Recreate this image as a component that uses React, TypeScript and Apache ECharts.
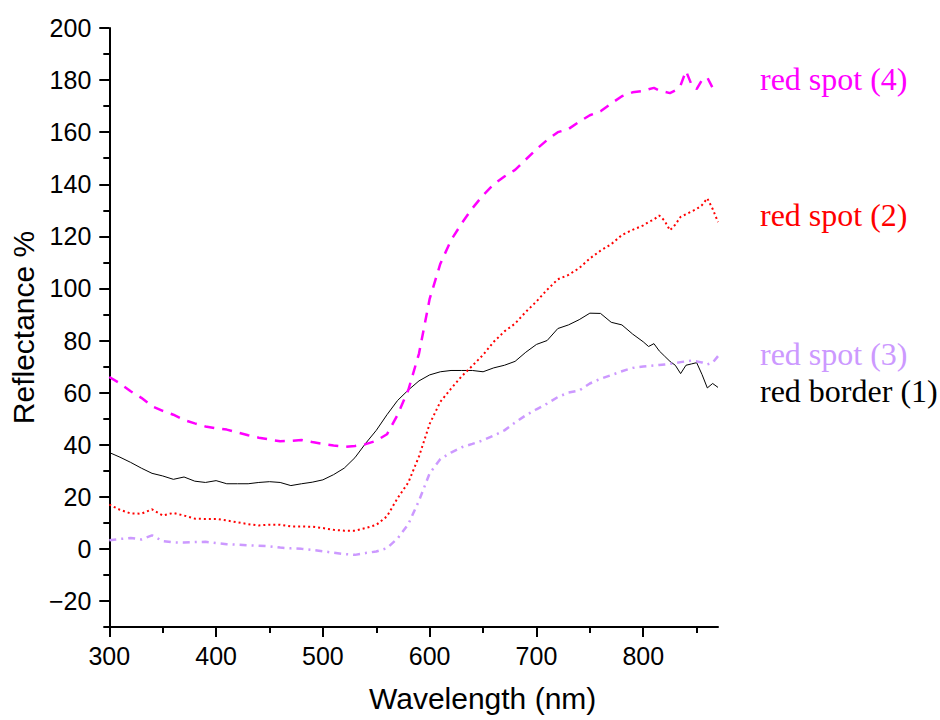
import React, { useEffect, useRef } from 'react';
import * as echarts from 'echarts';

const wavelengths = [
  300, 310, 320, 330, 340, 350, 360, 370, 380, 390, 400, 410, 420, 430, 440, 450, 460, 470, 480, 490,
  500, 510, 520, 530, 540, 550, 560, 570, 580, 590, 600, 610, 620, 630, 640, 650, 660, 670, 680, 690,
  700, 710, 720, 730, 740, 750, 760, 770, 780, 790, 800,
  805, 810, 815, 820, 825, 830, 835, 840, 845, 850, 855, 860, 865, 870,
];

const redBorder1 = [
  37, 35.2, 33.2, 31, 29, 28, 26.7, 27.6, 26, 25.5, 26.2, 25, 25, 25, 25.5, 25.8, 25.5, 24.3, 25, 25.6,
  26.5, 28.5, 31, 35, 40.5, 45.5, 51.5, 57, 61, 64.5, 66.8, 68, 68.5, 68.5, 68.5, 68, 69.5, 70.5, 72, 75.5,
  78.5, 80, 84.6, 86, 88, 90.5, 90.4, 87, 86, 82.5, 79.5,
  77.7, 78.8, 76, 74, 72, 70.5, 67.3, 70.5, 71, 71.5, 67, 61.8, 63.5, 62,
];

const redSpot2 = [
  17, 15, 13.6, 13.5, 15.2, 12.8, 13.8, 12.8, 11.6, 11.5, 11.5, 10.9, 10.2, 9.5, 9, 9.3, 9.3, 8.6, 8.6, 8.5,
  8, 7.3, 7, 7, 8, 9.2, 12.5, 19.5, 25.5, 35.5, 48, 56.5, 61.5, 66.3, 70.3, 74.5, 79.5, 83.5, 86.5, 91,
  95, 99.5, 103.5, 105.2, 107.8, 111.5, 114.5, 117, 120.5, 122.5, 124.2,
  125.5, 126.5, 128, 126, 122.3, 124.5, 127.5, 128.5, 129.5, 130.5, 132, 134.6, 130.5, 125.5,
];

const redSpot3 = [
  3.3, 3.8, 4.2, 3.6, 5.2, 3, 2.5, 2.4, 2.6, 2.7, 2.2, 1.8, 1.6, 1.4, 1.2, 1, 0.5, 0.2, 0, -0.4,
  -0.9, -1.5, -2, -2.3, -1.6, -1, 0.3, 4, 9.5, 18.5, 29, 34.5, 37, 39, 40.3, 41.7, 43.5, 45.5, 48.5, 51.3,
  53.6, 55.8, 58.3, 60, 60.8, 63.5, 65.3, 66.7, 68.2, 69.5, 70,
  70.2, 70.4, 70.6, 70.8, 71, 71.4, 71.7, 72, 72.3, 72, 71.6, 70.8, 71.5, 74,
];

const redSpot4 = [
  66, 63.5, 60.5, 58, 54.8, 53, 51.5, 49.5, 48.2, 47, 46.3, 45.8, 44.7, 43.6, 42.7, 42, 41.3, 41.5, 41.8, 41,
  40.3, 39.7, 39.2, 39.5, 40.2, 41.5, 44, 51.5, 61, 75, 96, 109.5, 118.5, 125, 130.8, 135.8, 140, 143, 145.5, 149.5,
  153.5, 157, 160, 161.2, 164, 166.5, 168, 171, 173.8, 175.3, 175.8,
  176.5, 177, 176, 175.5, 175, 176, 178, 183.5, 178.5, 176.5, 180, 181, 177, 178,
];

const yMajorTicks = [-20, 0, 20, 40, 60, 80, 100, 120, 140, 160, 180, 200];
const yMinorTicks = [-30, -10, 10, 30, 50, 70, 90, 110, 130, 150, 170, 190];
const xMajorTicks = [300, 400, 500, 600, 700, 800];
const xMinorTicks = [350, 450, 550, 650, 750, 850];

const seriesNames = ['red spot (4)', 'red spot (2)', 'red spot (3)', 'red border (1)'];

export default function App() {
  const ref = useRef<HTMLDivElement>(null);
  useEffect(() => {
    if (!ref.current) return;
    const chart = echarts.init(ref.current, null, { renderer: 'svg' });
    const pair = (arr: number[]) => wavelengths.map((w, i) => [w, arr[i]]);
    const sans = 'Liberation Sans, Arial, sans-serif';
    const serif = 'Liberation Serif, Times New Roman, serif';
    const mkSeries = (
      name: string,
      data: number[],
      color: string,
      width: number,
      type: any,
      offsetY: number
    ) => ({
      name,
      type: 'line',
      data: pair(data),
      xAxisIndex: 0,
      yAxisIndex: 0,
      showSymbol: false,
      symbol: 'none',
      lineStyle: { color, width, type },
      itemStyle: { color },
      endLabel: {
        show: true,
        formatter: '{a}',
        distance: 42,
        offset: [0, offsetY],
        color,
        fontFamily: serif,
        fontSize: 32,
      },
      z: 3,
    });
    chart.setOption({
      animation: false,
      backgroundColor: '#fff',
      grid: { left: 109, right: 222, top: 28, bottom: 93, containLabel: false },
      xAxis: [
        {
          type: 'value',
          min: 300,
          max: 870,
          interval: 100,
          axisLine: { show: true, onZero: false, lineStyle: { color: '#000', width: 2 } },
          axisTick: { show: true, length: 10, customValues: xMajorTicks, lineStyle: { color: '#000', width: 2 } },
          axisLabel: { customValues: xMajorTicks, color: '#000', fontSize: 25, fontFamily: sans, margin: 16 },
          splitLine: { show: false },
          name: 'Wavelength (nm)',
          nameLocation: 'middle',
          nameGap: 56,
          nameTextStyle: { color: '#000', fontSize: 30, fontFamily: sans, padding: [0, 0, 0, 138] },
        },
        {
          type: 'value',
          min: 300,
          max: 870,
          position: 'bottom',
          axisLine: { show: false, onZero: false },
          axisTick: { show: true, length: 6, customValues: xMinorTicks, lineStyle: { color: '#000', width: 2 } },
          axisLabel: { show: false },
          splitLine: { show: false },
        },
      ],
      yAxis: [
        {
          type: 'value',
          min: -30,
          max: 200,
          axisLine: { show: true, onZero: false, lineStyle: { color: '#000', width: 2 } },
          axisTick: { show: true, length: 10, customValues: yMajorTicks, lineStyle: { color: '#000', width: 2 } },
          axisLabel: {
            customValues: yMajorTicks,
            color: '#000',
            fontSize: 25,
            fontFamily: sans,
            margin: 18,
            formatter: (v: number) => (v < 0 ? '\u2212' + Math.abs(v) : String(v)),
          },
          splitLine: { show: false },
          name: 'Reflectance %',
          nameLocation: 'middle',
          nameGap: 70,
          nameTextStyle: { color: '#000', fontSize: 30, fontFamily: sans },
        },
        {
          type: 'value',
          min: -30,
          max: 200,
          position: 'left',
          axisLine: { show: false, onZero: false },
          axisTick: { show: true, length: 6, customValues: yMinorTicks, lineStyle: { color: '#000', width: 2 } },
          axisLabel: { show: false },
          splitLine: { show: false },
        },
      ],
      series: [
        mkSeries(seriesNames[3], redBorder1, '#000000', 1, 'solid', 4),
        mkSeries(seriesNames[2], redSpot3, '#CC99FF', 2.5, [7, 5, 2, 5], -2),
        mkSeries(seriesNames[1], redSpot2, '#FF0000', 2, [2, 3], -7),
        mkSeries(seriesNames[0], redSpot4, '#FF00FF', 2.5, [10, 8], -6),
      ],
    });
    return () => chart.dispose();
  }, []);
  return <div ref={ref} style={{ position: 'fixed', left: 0, top: 0, width: 940, height: 720 }} />;
}
